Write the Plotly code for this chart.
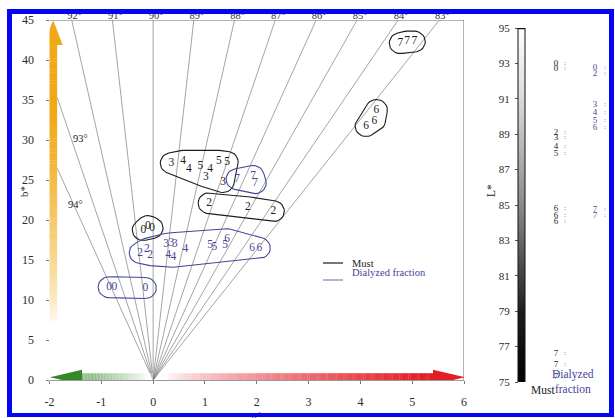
import math
import plotly.graph_objects as go

W, H = 615, 418
SERIF = "Liberation Serif"
MUST_COLOR = "#1c1c1c"
DIAL_COLOR = "#45459a"
AXIS_TEXT = "#2a2a2a"
FRAME_BLUE = "#0505f2"

# ---------------- data ----------------
# hue-angle reference rays (degrees) drawn from the origin
ray_angles = [94, 93, 92, 91, 90, 89, 88, 87, 86, 85, 84, 83]
side_ray_labels = [93, 94]

# CIELAB a*, b* of the musts (sample number per point)
must_sample = [0, 0, 0, 2, 2, 2, 3, 3, 3, 4, 4, 4, 5, 5, 5, 6, 6, 6, 7, 7, 7]
must_a = [-0.19, -0.10, -0.02, 1.08, 1.83, 2.32, 0.35, 1.02, 1.35,
          0.58, 0.69, 1.10, 0.91, 1.27, 1.43, 4.31, 4.27, 4.11, 4.77, 4.90, 5.04]
must_b = [18.75, 19.25, 19.0, 22.1, 21.6, 21.1, 27.1, 25.4, 24.75,
          27.4, 26.4, 26.4, 26.75, 27.4, 27.25, 33.75, 32.4, 31.75, 42.1, 42.3, 42.3]

# CIELAB a*, b* of the dialyzed fractions
dial_sample = [0, 0, 0, 2, 2, 2, 3, 3, 3, 4, 4, 4, 5, 5, 5, 6, 6, 6, 7, 7, 7]
dial_a = [-0.85, -0.75, -0.15, -0.25, -0.12, -0.06, 0.25, 0.35, 0.42,
          0.62, 0.29, 0.39, 1.10, 1.18, 1.39, 1.43, 1.91, 2.05, 1.62, 1.93, 1.97]
dial_b = [11.6, 11.6, 11.5, 15.9, 16.4, 15.6, 17.0, 17.1, 17.0,
          16.4, 15.6, 15.4, 16.9, 16.6, 16.9, 17.6, 16.5, 16.5, 25.1, 25.5, 24.6]

# sample clusters enclosed by a loop
must_groups = [[0], [2], [3, 4, 5], [6], [7]]
dial_groups = [[0], [2, 3, 4, 5, 6], [7]]

# lightness L*
lstar_must_sample = [0, 0, 2, 3, 4, 5, 6, 6, 6, 7, 7, 7]
lstar_must = [93.0, 92.7, 89.1, 88.8, 88.3, 87.9, 84.8, 84.4, 84.05, 76.6, 76.0, 75.3]
lstar_dial_sample = [0, 2, 3, 4, 5, 6, 7, 7]
lstar_dial = [92.75, 92.4, 90.65, 90.2, 89.75, 89.35, 84.75, 84.4]

a_ticks = [-2, -1, 0, 1, 2, 3, 4, 5, 6]
b_ticks = [0, 5, 10, 15, 20, 25, 30, 35, 40, 45]
L_ticks = [75, 77, 79, 81, 83, 85, 87, 89, 91, 93, 95]

# ---------------- geometry ----------------
X_LEFT, X_RIGHT = 49.5, 464.0     # pixel x of a* = -2 and a* = 6
Y_BOT, Y_TOP = 380.0, 20.0        # pixel y of b* = 0 and b* = 45
SX = (X_RIGHT - X_LEFT) / 8.0     # px per a* unit
SY = (Y_BOT - Y_TOP) / 45.0       # px per b* unit
X_ZERO = X_LEFT + 2 * SX          # pixel x of a* = 0


def fx(px):
    return px / W


def fy(py):
    return 1 - py / H


def px_to_a(px):
    return (px - X_ZERO) / SX


def py_to_b(py):
    return (Y_BOT - py) / SY


def convex_hull(points):
    pts = sorted(set(points))
    if len(pts) <= 2:
        return pts

    def cross(o, a, b):
        return (a[0] - o[0]) * (b[1] - o[1]) - (a[1] - o[1]) * (b[0] - o[0])

    lower, upper = [], []
    for p in pts:
        while len(lower) >= 2 and cross(lower[-2], lower[-1], p) <= 0:
            lower.pop()
        lower.append(p)
    for p in reversed(pts):
        while len(upper) >= 2 and cross(upper[-2], upper[-1], p) <= 0:
            upper.pop()
        upper.append(p)
    return lower[:-1] + upper[:-1]


def loop_outline(aa, bb, pad_px=10.0, n=28):
    pts = []
    for a, b in zip(aa, bb):
        for k in range(n):
            t = 2 * math.pi * k / n
            pts.append((round(a * SX + pad_px * math.cos(t), 3),
                        round(b * SY + pad_px * 0.95 * math.sin(t), 3)))
    hull = convex_hull(pts)
    hull.append(hull[0])
    return [p[0] / SX for p in hull], [p[1] / SY for p in hull]


def mix(c, f):
    f = max(0.0, min(1.0, f))
    return "rgb(%d,%d,%d)" % tuple(round(255 + (ci - 255) * f) for ci in c)


fig = go.Figure()

# ---------------- hue rays ----------------
top_lab_px, top_lab_txt = [], []
for ang in ray_angles:
    t = math.tan(math.radians(ang))
    if ang in side_ray_labels:
        a_end = -1.85
        b_end = a_end * t
    else:
        a_end = 0.0 if ang == 90 else 45.0 / t
        b_end = 45.0
        top_lab_px.append(X_ZERO + a_end * SX + 3.0)
        top_lab_txt.append("%d°" % ang)
    fig.add_trace(go.Scatter(x=[0, a_end], y=[0, b_end], mode="lines",
                             line=dict(color="#7d7d7d", width=0.7),
                             hoverinfo="skip", showlegend=False))

# ---------------- cluster loops ----------------
for samples, src_a, src_b, groups, color in [
        (must_sample, must_a, must_b, must_groups, MUST_COLOR),
        (dial_sample, dial_a, dial_b, dial_groups, DIAL_COLOR)]:
    for grp in groups:
        ga = [a for s, a in zip(samples, src_a) if s in grp]
        gb = [b for s, b in zip(samples, src_b) if s in grp]
        lx, ly = loop_outline(ga, gb, pad_px=11.0)
        fig.add_trace(go.Scatter(x=lx, y=ly, mode="lines",
                                 line=dict(color=color, width=1.1),
                                 hoverinfo="skip", showlegend=False))

# ---------------- sample labels ----------------
fig.add_trace(go.Scatter(x=must_a, y=must_b, mode="text",
                         text=[str(s) for s in must_sample],
                         textfont=dict(family=SERIF, size=11.5, color=MUST_COLOR),
                         hoverinfo="skip", showlegend=False))
fig.add_trace(go.Scatter(x=dial_a, y=dial_b, mode="text",
                         text=[str(s) for s in dial_sample],
                         textfont=dict(family=SERIF, size=11.5, color=DIAL_COLOR),
                         hoverinfo="skip", showlegend=False))

# ---------------- L* scale ----------------
L_BAR_X0, L_BAR_X1 = 518.0, 525.0
MUST_COL_X, DIAL_COL_X = 556.0, 595.0
nL = 201
fig.add_trace(go.Heatmap(
    z=[[75 + 20 * i / (nL - 1)] for i in range(nL)],
    x0=(L_BAR_X0 + L_BAR_X1) / 2, dx=L_BAR_X1 - L_BAR_X0,
    y0=75, dy=20 / (nL - 1),
    colorscale=[[0, "#000000"], [0.2, "#1e1e1e"], [0.5, "#8a8a8a"],
                [0.8, "#dadada"], [1, "#ffffff"]],
    zmin=75, zmax=95, zsmooth="best", showscale=False, hoverinfo="skip",
    xaxis="x2", yaxis="y2"))
fig.add_trace(go.Scatter(x=[MUST_COL_X] * len(lstar_must), y=lstar_must, mode="text",
                         text=[str(s) for s in lstar_must_sample],
                         textfont=dict(family=SERIF, size=9, color=MUST_COLOR),
                         hoverinfo="skip", showlegend=False, xaxis="x2", yaxis="y2"))
fig.add_trace(go.Scatter(x=[MUST_COL_X + 9] * len(lstar_must), y=lstar_must, mode="text",
                         text=[":"] * len(lstar_must),
                         textfont=dict(family=SERIF, size=5.5, color=MUST_COLOR),
                         hoverinfo="skip", showlegend=False, xaxis="x2", yaxis="y2"))
fig.add_trace(go.Scatter(x=[DIAL_COL_X] * len(lstar_dial), y=lstar_dial, mode="text",
                         text=[str(s) for s in lstar_dial_sample],
                         textfont=dict(family=SERIF, size=9, color=DIAL_COLOR),
                         hoverinfo="skip", showlegend=False, xaxis="x2", yaxis="y2"))
fig.add_trace(go.Scatter(x=[DIAL_COL_X + 10] * len(lstar_dial), y=lstar_dial, mode="text",
                         text=[":"] * len(lstar_dial),
                         textfont=dict(family=SERIF, size=5.5, color=DIAL_COLOR),
                         hoverinfo="skip", showlegend=False, xaxis="x2", yaxis="y2"))

# ---------------- full-page overlay (pixel units) for edge texts ----------------
# ray labels along the top edge and the a* title, partly tucked under the frame
fig.add_trace(go.Scatter(x=top_lab_px, y=[16.0] * len(top_lab_px), mode="text",
                         text=top_lab_txt,
                         textfont=dict(family=SERIF, size=10.5, color="#333333"),
                         hoverinfo="skip", showlegend=False, xaxis="x3", yaxis="y3"))
fig.add_trace(go.Scatter(x=[257.0], y=[416.0], mode="text", text=["a*"],
                         textfont=dict(family=SERIF, size=11, color=AXIS_TEXT),
                         hoverinfo="skip", showlegend=False, xaxis="x3", yaxis="y3"))

shapes = []

# plot border (top and right)
shapes.append(dict(type="line", xref="x", yref="y", x0=-2.15, x1=6, y0=45, y1=45,
                   line=dict(color="#6a6a6a", width=1), layer="below"))
shapes.append(dict(type="line", xref="x", yref="y", x0=6, x1=6, y0=0, y1=45,
                   line=dict(color="#6a6a6a", width=1), layer="below"))

# ---------------- gradient arrows ----------------
GOLD = (240, 168, 22)
GREEN = (52, 136, 40)
RED = (226, 30, 38)

# vertical (b*, yellow) arrow
ya_c = -1.93
ya_w = 4.0 / SX
ya_head_w = 9.5 / SX
ya_head_base = 45 - 25.0 / SY
n = 120
b_start = 0.5
for i in range(n):
    b0 = b_start + (ya_head_base - b_start) * i / n
    b1 = b_start + (ya_head_base - b_start) * (i + 1) / n
    f = ((b0 + b1) / 2 - 7.0) / 26.0
    f = max(0.0, min(1.0, f)) ** 0.65
    shapes.append(dict(type="rect", xref="x", yref="y",
                       x0=ya_c - ya_w, x1=ya_c + ya_w, y0=b0, y1=b1 + 0.05,
                       fillcolor=mix(GOLD, f), line=dict(width=0), layer="above"))
shapes.append(dict(type="path", xref="x", yref="y",
                   path="M %f,%f L %f,%f L %f,%f Z" % (ya_c - ya_head_w, ya_head_base,
                                                       ya_c + ya_head_w, ya_head_base,
                                                       ya_c, 45.0),
                   fillcolor=mix(GOLD, 1), line=dict(width=0), layer="above"))

# horizontal arrows along b* = 0
ha_c = 0.35
ha_w = 4.0 / SY
ha_head_w = 7.5 / SY

# green (-a*)
g_tip = px_to_a(50.0)
g_base = px_to_a(82.0)
for i in range(n):
    a0 = g_base + (0.0 - g_base) * i / n
    a1 = g_base + (0.0 - g_base) * (i + 1) / n
    f = (-(a0 + a1) / 2 - 0.1) / 1.05
    f = max(0.0, min(1.0, f)) ** 0.8
    shapes.append(dict(type="rect", xref="x", yref="y",
                       x0=a1 - 0.005, x1=a0, y0=ha_c - ha_w, y1=ha_c + ha_w,
                       fillcolor=mix(GREEN, f), line=dict(width=0), layer="above"))
shapes.append(dict(type="path", xref="x", yref="y",
                   path="M %f,%f L %f,%f L %f,%f Z" % (g_base, ha_c - ha_head_w,
                                                       g_base, ha_c + ha_head_w,
                                                       g_tip, ha_c),
                   fillcolor=mix(GREEN, 1), line=dict(width=0), layer="above"))

# red (+a*)
r_base = px_to_a(433.0)
r_tip = px_to_a(465.0)
r_start = 0.2
for i in range(n):
    a0 = r_start + (r_base - r_start) * i / n
    a1 = r_start + (r_base - r_start) * (i + 1) / n
    f = ((a0 + a1) / 2 - 0.25) / 4.9
    f = max(0.0, min(1.0, f)) ** 0.7
    shapes.append(dict(type="rect", xref="x", yref="y",
                       x0=a0, x1=a1 + 0.005, y0=ha_c - ha_w, y1=ha_c + ha_w,
                       fillcolor=mix(RED, f), line=dict(width=0), layer="above"))
shapes.append(dict(type="path", xref="x", yref="y",
                   path="M %f,%f L %f,%f L %f,%f Z" % (r_base, ha_c - ha_head_w,
                                                       r_base, ha_c + ha_head_w,
                                                       r_tip, ha_c),
                   fillcolor=mix(RED, 1), line=dict(width=0), layer="above"))

# L* bar outline
shapes.append(dict(type="rect", xref="x2", yref="y2", x0=L_BAR_X0, x1=L_BAR_X1,
                   y0=75, y1=95, line=dict(color="#111111", width=1), layer="above"))
shapes.append(dict(type="line", xref="x2", yref="y2", x0=L_BAR_X0, x1=L_BAR_X1,
                   y0=95, y1=95, line=dict(color="#111111", width=2.5), layer="above"))

# legend
shapes.append(dict(type="line", xref="paper", yref="paper", x0=fx(323), x1=fx(343),
                   y0=fy(263), y1=fy(263), line=dict(color=MUST_COLOR, width=1.2)))
shapes.append(dict(type="line", xref="paper", yref="paper", x0=fx(323), x1=fx(343),
                   y0=fy(280), y1=fy(280), line=dict(color="#8080b8", width=1.2)))

# ---------------- annotations ----------------
ann = []
ann.append(dict(x=px_to_a(80), y=py_to_b(138), xref="x", yref="y",
                text="93°", showarrow=False, font=dict(family=SERIF, size=10.5, color="#222222")))
ann.append(dict(x=px_to_a(75), y=py_to_b(204), xref="x", yref="y",
                text="94°", showarrow=False, font=dict(family=SERIF, size=10.5, color="#222222")))

ann.append(dict(x=fx(350), y=fy(263), xref="paper", yref="paper", xanchor="left",
                text="Must", showarrow=False, font=dict(family=SERIF, size=10.5, color=MUST_COLOR)))
ann.append(dict(x=fx(350), y=fy(280), xref="paper", yref="paper", xanchor="left",
                text="Dialyzed fraction", showarrow=False,
                font=dict(family=SERIF, size=10.5, color=DIAL_COLOR)))

ann.append(dict(x=fx(557), y=fy(398), xref="paper", yref="paper",
                text="Must", showarrow=False, font=dict(family=SERIF, size=11.5, color=MUST_COLOR)))
ann.append(dict(x=fx(596), y=fy(397), xref="paper", yref="paper", align="center",
                text="Dialyzed<br>fraction", showarrow=False,
                font=dict(family=SERIF, size=11.5, color=DIAL_COLOR)))
ann.append(dict(x=fx(499), y=fy(191), xref="paper", yref="paper", textangle=-90,
                text="L*", showarrow=False, font=dict(family=SERIF, size=11.5, color="#222222")))
ann.append(dict(x=fx(16), y=fy(192), xref="paper", yref="paper", textangle=-90,
                text="b*", showarrow=False, font=dict(family=SERIF, size=11, color=AXIS_TEXT)))

# outer blue frame
for x0, x1, y0, y1 in [(7, 12, 9, 417), (7, 614, 9, 14), (609, 614, 9, 417), (7, 614, 413, 417)]:
    shapes.append(dict(type="rect", xref="paper", yref="paper",
                       x0=fx(x0), x1=fx(x1), y0=fy(y1), y1=fy(y0),
                       fillcolor=FRAME_BLUE, line=dict(width=0), layer="above"))

fig.update_layout(
    template="none",
    width=W, height=H, autosize=False,
    margin=dict(l=0, r=0, t=0, b=0, pad=0, autoexpand=False),
    paper_bgcolor="white", plot_bgcolor="rgba(0,0,0,0)",
    showlegend=False,
    font=dict(family=SERIF, color=AXIS_TEXT),
    shapes=shapes, annotations=ann,
    xaxis=dict(domain=[fx(X_LEFT), fx(X_RIGHT)], range=[-2, 6], automargin=False,
               tickvals=a_ticks, ticktext=[str(v) for v in a_ticks],
               ticks="outside", ticklen=3, tickcolor="#777777",
               showgrid=False, zeroline=False, showline=True, linecolor="#9a9a9a",
               linewidth=1, layer="below traces",
               tickfont=dict(family=SERIF, size=12, color=AXIS_TEXT),
               ticklabelstandoff=8, anchor="y"),
    yaxis=dict(domain=[fy(Y_BOT), fy(Y_TOP)], range=[0, 45], automargin=False,
               tickvals=b_ticks, ticks="outside", ticklen=3, tickcolor="#777777",
               showgrid=False, zeroline=False, showline=False,
               tickfont=dict(family=SERIF, size=12, color=AXIS_TEXT),
               ticklabelstandoff=9, anchor="x"),
    xaxis2=dict(domain=[fx(500), fx(615)], range=[500, 615], visible=False,
                automargin=False, anchor="y2", fixedrange=True),
    yaxis2=dict(domain=[fy(382), fy(28)], range=[75, 95], anchor="free",
                position=fx(L_BAR_X0), side="left", automargin=False,
                tickvals=L_ticks, ticks="outside", ticklen=3, tickcolor="#555555",
                showgrid=False, zeroline=False, showline=False,
                tickfont=dict(family=SERIF, size=11, color=AXIS_TEXT),
                ticklabelstandoff=3),
    xaxis3=dict(domain=[0, 1], range=[0, W], visible=False, automargin=False,
                anchor="y3", fixedrange=True),
    yaxis3=dict(domain=[0, 1], range=[H, 0], visible=False, automargin=False,
                anchor="x3", fixedrange=True),
)

fig.write_html("out.html")
